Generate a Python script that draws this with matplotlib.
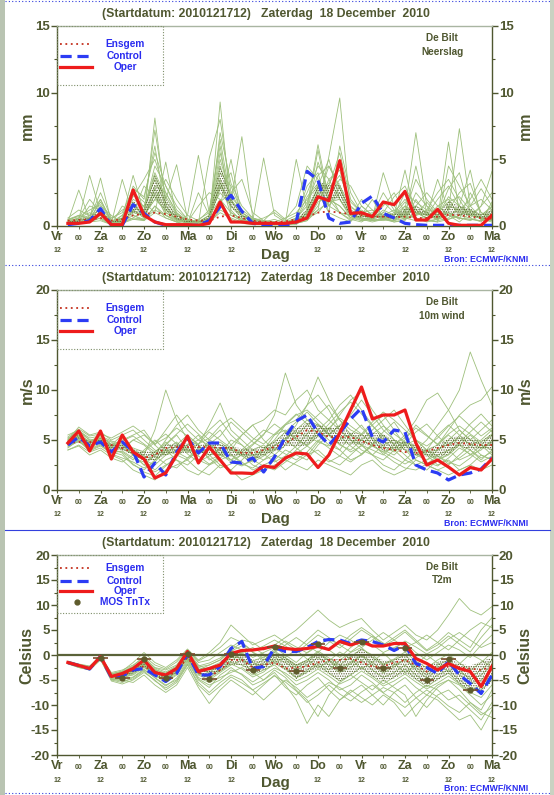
import numpy as np
import matplotlib
matplotlib.use('Agg')
import matplotlib.pyplot as plt
from matplotlib.lines import Line2D
from matplotlib.patches import Rectangle
from matplotlib.ticker import MultipleLocator
import matplotlib.transforms as mtransforms

plt.rcParams['font.family'] = ['Liberation Sans', 'DejaVu Sans']
plt.rcParams['font.weight'] = 'bold'
plt.rcParams['hatch.linewidth'] = 0.6

# ---------------- data ----------------
hours = list(range(6, 241, 6))
day_hours = list(range(0, 241, 24))
day_names = ['Vr', 'Za', 'Zo', 'Ma', 'Di', 'Wo', 'Do', 'Vr', 'Za', 'Zo', 'Ma']
mid_hours = list(range(12, 241, 24))
title_text = '(Startdatum: 2010121712)   Zaterdag  18 December  2010'

# Precipitation (mm)
prec_oper = [0.2, 0.2, 0.3, 0.95, 0.1, 0.1, 2.7, 0.8, 0.3, 0.1, 0.1, 0.1, 0.05, 0.2, 1.8, 0.3, 0.3, 0.2, 0.2, 0.2,
             0.2, 0.3, 0.6, 2.2, 1.9, 4.9, 0.95, 1.0, 0.7, 1.8, 1.6, 2.6, 0.45, 0.45, 1.25, 0.2, 0.05, 0.05, 0.05, 0.8]
prec_ctrl = [0.1, 0.2, 0.4, 1.3, 0.05, 0.05, 1.6, 0.95, 0.3, 0.05, 0.05, 0.05, 0.05, 0.4, 1.45, 2.3, 1.1, 0.2, 0.05, 0.05,
             0.05, 0.3, 4.1, 3.45, 0.6, 0.2, 0.3, 1.7, 2.25, 0.95, 0.6, 0.2, 0.1, 0.05, 0.05, 0.05, 0.05, 0.05, 0.05, 0.05]
prec_ensgem = [0.4, 0.45, 0.5, 0.6, 0.4, 0.5, 0.8, 0.9, 1.0, 0.9, 0.7, 0.5, 0.4, 0.4, 0.7, 0.8, 0.6, 0.4, 0.3, 0.3,
               0.35, 0.5, 0.7, 1.0, 1.1, 1.0, 0.9, 0.8, 0.7, 0.7, 0.65, 0.7, 0.6, 0.6, 0.7, 0.85, 0.8, 0.7, 0.6, 0.55]
prec_m01 = [0.3, 2.7, 0.5, 0.8, 0.1, 0.2, 1.2, 0.6, 8.1, 1.5, 0.4, 0.2, 0.3, 0.8, 2.0, 0.5, 0.2, 0.1, 0.3, 0.5, 0.2, 0.1, 0.8, 2.5, 1.0, 0.6, 0.3, 1.5, 0.8, 0.5, 0.4, 1.2, 7.0, 1.5, 0.6, 0.8, 0.3, 1.0, 0.5, 0.4]
prec_m02 = [0.2, 0.5, 3.8, 1.0, 0.2, 3.5, 0.8, 0.4, 1.0, 4.8, 0.6, 0.2, 0.1, 0.3, 9.3, 1.2, 0.3, 0.1, 0.2, 0.1, 0.3, 0.6, 1.5, 6.1, 2.0, 1.0, 0.4, 0.8, 2.0, 0.6, 0.3, 0.5, 1.0, 0.8, 3.5, 1.2, 7.3, 1.5, 0.6, 1.0]
prec_m03 = [0.5, 0.8, 0.6, 3.6, 0.3, 0.6, 3.8, 1.0, 7.2, 2.0, 4.6, 0.5, 0.2, 0.4, 1.5, 5.0, 0.8, 0.3, 0.2, 0.2, 0.2, 0.4, 0.6, 1.2, 5.2, 9.6, 1.0, 0.6, 0.5, 1.2, 0.8, 4.2, 0.6, 0.3, 0.5, 6.3, 1.0, 0.8, 1.5, 4.1]
prec_m04 = [0.1, 0.3, 0.4, 1.5, 0.8, 0.2, 2.5, 1.8, 1.0, 0.6, 0.3, 0.8, 5.3, 1.0, 6.5, 1.8, 6.7, 0.6, 0.3, 0.2, 0.1, 0.2, 1.0, 3.0, 1.5, 2.5, 0.8, 1.2, 0.6, 4.0, 1.5, 0.6, 0.8, 1.0, 0.4, 0.6, 1.5, 4.2, 0.5, 0.8]
prec_m05 = [0.4, 0.6, 1.0, 0.5, 0.1, 1.5, 1.0, 3.0, 2.2, 1.0, 0.5, 0.3, 0.2, 5.1, 8.0, 2.5, 1.0, 0.4, 5.1, 0.8, 0.3, 5.0, 1.2, 5.7, 1.5, 1.0, 0.5, 0.3, 0.8, 0.6, 1.0, 2.0, 1.0, 0.6, 1.5, 2.0, 0.8, 0.6, 0.3, 1.8]
prec_m06 = [0.2, 0.4, 0.6, 0.9, 0.2, 0.4, 1.8, 0.6, 3.0, 2.5, 1.0, 0.2, 0.1, 0.2, 3.5, 0.8, 0.4, 0.3, 0.1, 0.1, 0.2, 0.6, 3.0, 4.0, 1.0, 6.0, 2.5, 1.0, 1.2, 0.5, 0.3, 0.4, 2.0, 0.8, 0.6, 1.0, 0.5, 2.5, 1.0, 0.6]
prec_m07 = [0.6, 1.2, 0.8, 2.0, 0.3, 0.8, 0.5, 0.5, 1.5, 0.8, 0.4, 0.3, 0.5, 1.0, 2.5, 1.5, 0.6, 0.2, 0.4, 1.2, 0.5, 1.5, 4.5, 3.5, 2.0, 1.5, 0.6, 2.0, 1.2, 0.8, 0.5, 1.5, 0.8, 1.2, 2.5, 3.5, 2.0, 0.6, 1.5, 2.5]
prec_m08 = [0.2, 0.2, 0.3, 0.4, 0.1, 0.2, 0.6, 1.2, 4.5, 3.0, 1.5, 0.5, 0.2, 0.3, 1.0, 0.6, 0.3, 0.2, 0.1, 0.3, 0.2, 0.3, 0.5, 1.5, 3.5, 4.2, 1.0, 0.5, 0.3, 0.5, 0.6, 1.0, 3.5, 2.0, 1.0, 0.5, 0.8, 1.2, 0.5, 0.3]
prec_m09 = [0.3, 0.4, 1.5, 1.2, 0.2, 0.5, 3.0, 2.0, 6.0, 1.0, 0.6, 0.2, 2.5, 0.8, 5.5, 2.0, 0.8, 0.3, 0.2, 0.1, 0.1, 0.2, 0.6, 2.0, 4.5, 3.0, 1.5, 0.8, 0.6, 1.5, 2.5, 1.0, 0.6, 0.4, 0.3, 4.5, 3.0, 1.5, 2.0, 1.2]
prec_m10 = [0.1, 0.2, 0.3, 0.6, 0.2, 0.3, 1.0, 0.8, 2.0, 1.2, 0.8, 0.4, 0.3, 0.6, 4.0, 3.0, 1.0, 0.5, 0.3, 0.2, 0.2, 0.4, 1.0, 4.8, 2.5, 1.0, 0.8, 0.4, 0.5, 0.8, 1.2, 0.6, 1.5, 2.5, 1.5, 0.8, 0.6, 0.4, 0.8, 1.5]
prec_m11 = [0.4, 0.8, 0.5, 1.8, 0.4, 0.6, 2.0, 1.5, 3.5, 1.5, 0.6, 0.3, 0.4, 1.2, 6.0, 1.0, 0.5, 0.2, 0.2, 0.3, 0.6, 1.0, 2.0, 3.0, 5.0, 2.0, 0.6, 0.8, 1.0, 0.7, 0.5, 0.8, 4.5, 1.0, 0.5, 1.5, 1.2, 0.8, 0.6, 0.5]
prec_m12 = [0.2, 0.3, 0.4, 0.8, 0.1, 0.3, 0.8, 0.5, 2.5, 0.8, 0.3, 0.1, 0.2, 0.5, 2.8, 4.0, 0.6, 0.2, 0.1, 0.1, 0.1, 0.3, 0.8, 2.2, 1.5, 3.0, 0.8, 0.5, 0.4, 0.6, 0.8, 1.5, 1.0, 0.6, 0.8, 2.8, 4.0, 1.0, 0.5, 0.6]
prec_m13 = [0.3, 0.6, 2.0, 1.0, 0.2, 0.8, 2.2, 3.5, 5.0, 2.5, 1.0, 0.4, 0.3, 0.6, 3.0, 1.5, 0.8, 0.5, 0.3, 0.2, 0.3, 0.5, 1.8, 3.8, 4.5, 2.8, 1.2, 0.8, 0.5, 0.4, 0.6, 0.9, 1.5, 1.0, 0.6, 1.2, 2.5, 3.2, 1.0, 0.7]
prec_m14 = [0.2, 0.3, 0.5, 1.0, 0.5, 1.2, 1.5, 0.8, 2.0, 3.5, 2.0, 0.8, 0.4, 0.3, 1.8, 2.5, 3.5, 1.0, 0.4, 0.3, 0.2, 0.3, 0.6, 1.0, 2.0, 1.5, 0.6, 0.4, 0.6, 1.0, 2.2, 3.0, 1.2, 0.5, 0.3, 0.5, 0.8, 1.5, 2.8, 1.5]
prec_m15 = [0.4, 0.5, 0.8, 1.2, 0.3, 0.4, 1.5, 1.0, 3.8, 1.8, 0.8, 0.3, 0.2, 0.4, 7.0, 3.2, 1.5, 0.6, 0.3, 0.2, 0.2, 0.4, 1.2, 2.8, 3.0, 5.5, 2.0, 1.0, 0.8, 0.6, 0.4, 0.6, 2.5, 1.5, 0.8, 1.0, 0.6, 0.5, 0.4, 0.6]
prec_m16 = [0.1, 0.2, 0.4, 2.0, 0.4, 0.3, 0.6, 0.5, 1.2, 0.8, 0.5, 0.3, 1.5, 2.5, 2.0, 1.0, 0.5, 0.3, 0.2, 0.1, 0.1, 0.2, 0.4, 1.8, 2.2, 3.5, 3.0, 1.5, 0.8, 2.5, 1.2, 0.6, 0.4, 0.8, 2.0, 3.0, 1.5, 0.8, 0.6, 0.4]
prec_m17 = [0.3, 0.4, 0.6, 2.5, 0.6, 1.0, 2.8, 2.2, 5.5, 3.0, 1.2, 0.5, 0.3, 0.5, 4.5, 2.0, 0.8, 0.4, 0.6, 1.0, 0.4, 0.8, 2.5, 4.5, 3.5, 2.0, 0.8, 0.6, 0.4, 0.5, 0.8, 1.8, 1.2, 0.8, 0.5, 0.8, 1.2, 2.0, 3.5, 2.0]
prec_m18 = [0.2, 0.3, 0.6, 0.8, 0.2, 0.3, 1.2, 0.7, 2.8, 1.2, 0.5, 0.2, 0.3, 0.8, 3.2, 1.8, 1.0, 0.5, 0.3, 0.2, 0.3, 0.5, 2.2, 3.2, 2.8, 3.8, 1.8, 1.0, 0.7, 1.8, 1.0, 0.5, 0.8, 1.8, 0.8, 2.2, 1.5, 1.0, 0.6, 1.2]
prec_m19 = [0.5, 0.7, 1.2, 1.6, 0.3, 0.5, 2.4, 1.4, 4.0, 2.2, 0.9, 0.4, 0.3, 0.6, 5.0, 2.2, 1.2, 0.6, 0.4, 0.3, 0.2, 0.4, 0.9, 2.6, 3.2, 4.5, 1.4, 0.9, 0.6, 1.0, 0.8, 2.5, 1.8, 1.2, 1.0, 1.8, 2.2, 1.2, 0.8, 1.4]
prec_m20 = [0.2, 0.2, 0.4, 0.6, 0.1, 0.2, 0.5, 0.4, 1.5, 0.6, 0.3, 0.1, 0.1, 0.2, 1.2, 0.8, 0.4, 0.2, 0.1, 0.1, 0.1, 0.2, 0.4, 1.2, 1.8, 2.0, 0.8, 0.6, 0.4, 0.5, 0.4, 0.8, 0.6, 0.4, 0.5, 0.8, 0.6, 0.5, 0.4, 0.5]
prec_members = [prec_m01, prec_m02, prec_m03, prec_m04, prec_m05, prec_m06, prec_m07, prec_m08, prec_m09, prec_m10,
                prec_m11, prec_m12, prec_m13, prec_m14, prec_m15, prec_m16, prec_m17, prec_m18, prec_m19, prec_m20]

# 10 m wind (m/s)
wind_oper = [4.7, 5.9, 3.9, 5.9, 3.1, 5.5, 3.8, 3.1, 1.2, 1.7, 3.5, 5.4, 2.7, 4.3, 3.0, 1.7, 1.7, 1.65, 2.4, 2.25,
             3.2, 3.7, 3.6, 2.25, 3.5, 5.7, 8.0, 10.3, 7.1, 7.5, 7.5, 8.0, 4.7, 2.5, 3.0, 2.3, 1.5, 2.25, 2.0, 3.1]
wind_ctrl = [4.5, 5.3, 4.4, 4.8, 3.8, 4.8, 3.9, 1.3, 2.7, 1.5, 3.8, 5.2, 3.7, 4.7, 4.7, 2.8, 2.7, 3.2, 1.8, 3.3,
             5.3, 6.9, 7.5, 5.7, 4.5, 5.7, 7.1, 8.2, 5.3, 4.8, 6.0, 5.8, 2.5, 2.0, 1.7, 1.0, 1.5, 1.7, 2.1, 3.2]
wind_ensgem = [4.7, 4.8, 4.8, 4.7, 4.5, 4.2, 3.7, 3.2, 3.5, 4.2, 4.3, 4.3, 4.3, 4.3, 4.2, 4.2, 3.7, 3.7, 4.0, 4.3,
               4.7, 5.3, 6.0, 5.8, 5.3, 5.3, 5.3, 4.9, 4.5, 4.2, 4.0, 3.8, 3.7, 3.9, 4.2, 4.5, 4.7, 4.6, 4.5, 4.5]
wind_m01 = [4.8, 5.5, 4.5, 5.0, 4.2, 4.5, 3.5, 3.0, 2.5, 3.5, 4.0, 5.0, 4.5, 3.5, 4.0, 3.0, 3.5, 4.5, 5.5, 7.5, 11.7, 8.5, 7.0, 6.0, 5.0, 4.0, 5.5, 6.5, 5.0, 4.0, 3.5, 4.5, 5.0, 4.0, 3.0, 3.5, 4.5, 5.5, 4.5, 4.0]
wind_m02 = [5.0, 6.3, 5.5, 5.8, 5.0, 5.5, 4.0, 3.5, 6.0, 10.0, 7.0, 5.0, 4.5, 6.5, 8.7, 6.0, 5.0, 4.0, 3.5, 4.5, 5.0, 6.5, 8.5, 11.3, 9.0, 7.0, 5.5, 4.5, 3.5, 3.0, 4.0, 5.0, 6.5, 5.5, 4.5, 6.0, 7.5, 8.5, 9.0, 10.3]
wind_m03 = [4.0, 4.5, 3.8, 4.2, 3.5, 3.0, 2.0, 1.5, 1.0, 2.0, 2.5, 3.0, 2.0, 1.5, 2.5, 2.0, 1.0, 1.5, 2.0, 2.5, 3.0, 2.5, 2.0, 3.0, 2.5, 2.0, 1.5, 2.5, 3.0, 2.0, 1.5, 2.0, 3.0, 2.5, 2.0, 1.5, 2.0, 2.5, 2.0, 2.5]
wind_m04 = [4.5, 5.0, 4.8, 5.5, 4.5, 5.0, 5.5, 6.0, 4.5, 3.5, 4.0, 4.5, 5.5, 4.0, 3.5, 3.0, 4.0, 5.0, 6.0, 5.5, 6.5, 7.5, 8.0, 7.0, 6.0, 7.5, 9.0, 9.8, 8.0, 6.5, 5.0, 4.5, 4.0, 5.0, 6.5, 8.0, 10.0, 13.8, 11.0, 8.5]
wind_m05 = [5.5, 6.0, 5.0, 5.2, 4.8, 4.0, 5.0, 4.5, 3.5, 5.0, 6.5, 7.5, 6.0, 5.0, 4.5, 4.0, 5.5, 6.5, 7.0, 8.0, 7.5, 9.0, 10.0, 8.0, 7.0, 6.0, 5.0, 4.0, 3.5, 4.5, 5.0, 4.0, 3.5, 3.0, 4.0, 5.0, 6.0, 5.0, 4.5, 5.5]
wind_m06 = [4.2, 5.0, 4.0, 4.5, 3.8, 3.5, 2.5, 2.0, 3.0, 4.5, 5.5, 4.0, 3.0, 2.5, 3.5, 5.0, 4.5, 3.5, 3.0, 3.5, 4.5, 5.5, 6.5, 7.5, 8.5, 7.0, 6.0, 5.5, 6.5, 7.5, 6.0, 4.5, 3.5, 4.0, 5.5, 6.5, 5.5, 4.5, 5.0, 6.0]
wind_m07 = [4.8, 5.2, 4.6, 5.5, 4.5, 4.8, 4.0, 3.0, 2.0, 3.0, 3.5, 4.5, 5.0, 4.5, 4.0, 3.0, 2.5, 3.0, 4.0, 5.5, 6.0, 5.0, 4.5, 6.0, 7.0, 8.5, 9.5, 8.0, 6.5, 5.0, 4.0, 3.0, 2.5, 3.0, 3.5, 4.0, 3.0, 3.5, 4.5, 3.5]
wind_m08 = [4.5, 4.8, 4.2, 4.8, 4.0, 3.8, 3.0, 4.0, 5.0, 4.0, 3.0, 2.5, 3.5, 5.0, 6.0, 4.5, 3.5, 2.5, 2.0, 3.0, 4.0, 3.5, 3.0, 4.5, 5.5, 6.5, 7.5, 9.0, 7.5, 6.0, 5.0, 4.0, 3.0, 2.5, 2.0, 2.5, 3.5, 4.5, 3.5, 3.0]
wind_m09 = [5.2, 5.8, 5.0, 4.8, 4.5, 5.5, 6.0, 5.0, 4.0, 3.5, 4.5, 5.5, 4.5, 3.0, 3.5, 4.5, 5.5, 6.5, 5.0, 4.0, 5.0, 6.0, 7.0, 6.5, 5.5, 4.5, 4.0, 5.0, 6.0, 7.0, 8.0, 6.5, 5.0, 4.0, 4.5, 5.5, 4.5, 3.5, 4.0, 5.0]
wind_m10 = [4.0, 4.4, 3.5, 4.0, 3.2, 2.8, 3.5, 2.5, 1.8, 2.5, 3.0, 2.0, 1.5, 2.5, 3.0, 3.5, 2.8, 2.0, 2.5, 3.0, 2.0, 2.8, 3.5, 4.0, 3.0, 2.5, 3.5, 4.5, 3.5, 2.5, 2.0, 3.0, 4.0, 3.5, 2.5, 3.0, 2.0, 2.5, 3.5, 3.0]
wind_m11 = [4.6, 5.4, 4.4, 5.2, 4.0, 4.2, 5.0, 5.5, 4.5, 6.0, 7.5, 6.0, 5.0, 6.0, 7.0, 5.5, 4.5, 3.5, 4.0, 5.0, 6.5, 7.0, 8.5, 9.5, 8.0, 6.0, 5.0, 4.5, 4.0, 3.5, 4.5, 5.5, 7.0, 9.0, 9.7, 8.0, 6.0, 5.0, 6.0, 7.0]
wind_m12 = [5.0, 5.6, 4.8, 5.0, 4.5, 4.5, 3.5, 2.5, 3.5, 4.0, 3.5, 3.0, 4.0, 3.5, 2.5, 2.0, 3.0, 4.0, 4.5, 3.5, 3.0, 4.0, 5.0, 5.5, 4.5, 4.0, 3.0, 3.5, 4.5, 5.5, 4.5, 3.5, 2.5, 2.0, 3.0, 4.0, 4.5, 4.0, 3.0, 4.0]
wind_m13 = [4.4, 5.1, 4.1, 4.6, 3.6, 3.2, 2.8, 2.2, 2.8, 4.0, 4.8, 3.6, 2.8, 3.4, 4.2, 3.6, 2.6, 2.2, 3.0, 4.0, 5.0, 4.2, 3.4, 4.8, 6.2, 5.4, 4.4, 3.6, 4.6, 5.8, 6.8, 5.2, 3.8, 2.8, 2.4, 3.2, 4.2, 3.6, 2.8, 3.4]
wind_m14 = [5.1, 5.9, 5.2, 5.4, 4.9, 4.6, 4.2, 3.8, 4.8, 5.6, 4.6, 3.8, 4.6, 5.8, 5.0, 4.2, 3.8, 4.6, 5.6, 6.6, 5.8, 6.8, 7.8, 6.6, 5.6, 6.4, 7.4, 6.2, 5.2, 4.4, 3.8, 4.6, 5.8, 6.6, 5.4, 4.4, 5.4, 6.6, 7.6, 6.4]
wind_m15 = [4.3, 4.9, 3.9, 4.4, 3.7, 3.9, 3.2, 2.8, 3.4, 2.6, 2.2, 3.2, 4.2, 3.2, 2.2, 2.6, 3.6, 3.0, 2.4, 2.0, 2.8, 3.6, 4.4, 3.6, 2.8, 3.4, 4.6, 5.6, 4.6, 3.6, 2.8, 2.2, 2.0, 2.6, 3.4, 2.8, 2.4, 3.2, 4.2, 4.8]
wind_m16 = [4.9, 5.7, 4.7, 5.1, 4.3, 4.9, 5.4, 4.6, 3.8, 4.6, 5.6, 6.6, 5.6, 4.6, 5.4, 6.8, 5.8, 4.8, 4.2, 4.8, 5.8, 5.2, 4.4, 5.4, 6.6, 7.8, 8.8, 7.6, 6.4, 5.4, 4.6, 5.2, 6.2, 5.4, 4.6, 5.6, 6.4, 5.6, 4.8, 5.6]
wind_m17 = [4.7, 5.3, 4.3, 4.9, 4.1, 3.7, 2.6, 1.8, 1.4, 2.4, 3.4, 4.2, 3.4, 2.6, 3.2, 4.0, 3.4, 2.8, 3.4, 4.2, 3.6, 3.0, 3.8, 5.0, 4.2, 3.4, 2.8, 3.6, 4.4, 3.8, 3.2, 2.6, 3.2, 4.0, 3.4, 2.6, 3.2, 4.0, 3.2, 3.8]
wind_m18 = [5.3, 6.1, 5.4, 5.6, 5.2, 5.8, 6.4, 5.6, 4.6, 5.2, 6.2, 5.4, 4.6, 5.2, 6.4, 7.2, 6.2, 5.2, 4.6, 5.6, 6.6, 7.6, 6.6, 5.6, 6.2, 7.2, 6.4, 5.6, 6.8, 7.8, 7.0, 6.0, 5.0, 4.4, 5.2, 6.4, 7.4, 6.4, 5.4, 6.2]
wind_m19 = [4.6, 5.2, 4.5, 4.7, 4.3, 4.4, 3.8, 3.4, 3.0, 3.8, 4.4, 4.0, 3.6, 4.2, 4.8, 4.0, 3.6, 3.4, 3.8, 4.4, 5.2, 5.8, 5.4, 4.8, 4.4, 5.0, 5.6, 5.0, 4.4, 3.8, 4.2, 4.8, 4.4, 3.8, 4.0, 4.6, 5.2, 4.6, 4.2, 4.6]
wind_m20 = [4.9, 5.4, 4.9, 5.3, 4.6, 4.1, 3.6, 3.2, 3.8, 4.8, 3.8, 3.2, 3.8, 4.6, 3.6, 2.8, 2.4, 3.0, 3.6, 2.8, 3.4, 4.4, 5.6, 6.6, 5.6, 4.6, 3.8, 4.4, 5.6, 6.4, 5.6, 4.8, 4.2, 3.6, 3.0, 3.6, 4.8, 5.8, 6.8, 5.8]
wind_members = [wind_m01, wind_m02, wind_m03, wind_m04, wind_m05, wind_m06, wind_m07, wind_m08, wind_m09, wind_m10,
                wind_m11, wind_m12, wind_m13, wind_m14, wind_m15, wind_m16, wind_m17, wind_m18, wind_m19, wind_m20]

# 2 m temperature (Celsius)
temp_oper = [-1.5, -2.1, -2.7, -0.3, -4.3, -3.7, -2.7, -1.0, -3.5, -4.0, -2.7, 0.7, -3.3, -2.7, -2.0, 0.3, 0.9, 1.0, 1.3, 1.8,
             1.3, 1.1, 1.3, 1.7, 1.1, 2.7, 2.0, 2.7, 1.8, 1.8, 2.3, 2.3, -0.7, -1.7, -3.0, -1.7, -2.7, -3.3, -6.3, -2.3]
temp_ctrl = [-1.5, -2.1, -2.8, -0.3, -4.5, -4.2, -3.0, -2.7, -4.0, -5.3, -3.7, 0.3, -4.0, -4.0, -2.3, 1.3, 2.7, -2.7, -2.3, 1.5,
             0.7, 0.7, 1.5, 2.7, 3.1, 3.0, 2.3, 3.0, 2.7, 2.0, 0.9, 2.0, -1.7, -2.5, -3.7, -1.3, -4.0, -5.7, -7.7, -4.0]
temp_ensgem = [-1.5, -2.2, -2.7, -0.5, -4.3, -4.0, -3.2, -2.2, -3.5, -4.3, -3.3, -0.5, -3.5, -4.3, -3.0, -1.0, -1.0, -2.5, -2.0, -1.5,
               -2.7, -2.5, -2.3, -1.5, -1.0, -1.0, -0.7, -1.5, -2.3, -2.3, -1.5, -1.0, -2.0, -3.3, -3.0, -2.3, -2.5, -2.7, -3.0, -2.3]
temp_m01 = [-1.5, -2.0, -2.5, -0.5, -4.5, -4.0, -3.0, -1.5, -3.0, -4.5, -3.0, 0.5, -3.0, -2.0, -1.0, 1.5, 3.0, 2.5, 1.0, 2.0, 3.5, 5.0, 7.0, 9.0, 7.0, 5.5, 6.5, 7.3, 5.0, 3.0, 4.5, 6.0, 4.0, 3.0, 5.0, 8.0, 11.3, 9.0, 8.0, 9.7]
temp_m02 = [-1.8, -2.5, -3.0, -1.0, -5.0, -5.5, -4.5, -3.0, -4.5, -6.0, -5.0, -1.5, -5.0, -6.5, -4.0, -2.5, -4.0, -6.0, -5.0, -3.5, -6.0, -9.0, -13.7, -10.0, -12.3, -9.0, -7.0, -8.5, -10.0, -8.0, -9.5, -12.3, -10.0, -8.0, -9.0, -11.0, -13.0, -12.0, -15.0, -11.0]
temp_m03 = [-1.2, -1.8, -2.2, -0.3, -3.5, -3.0, -2.0, -0.5, -2.5, -3.0, -2.0, 1.0, -1.5, -1.0, 0.5, 2.0, 1.0, -0.5, 0.5, 1.5, 0.0, -1.5, 0.5, 2.0, 1.0, -0.5, 1.5, 3.0, 2.0, 0.5, 1.5, 2.5, 0.5, -1.0, 0.5, 2.0, 1.0, -0.5, 2.0, 4.0]
temp_m04 = [-1.6, -2.3, -2.8, -0.8, -5.0, -4.5, -4.0, -2.5, -4.0, -5.5, -4.0, -1.0, -4.5, -5.5, -4.5, -3.5, -2.5, -4.0, -3.0, -2.0, -4.0, -6.0, -5.0, -3.5, -5.0, -7.0, -6.0, -4.0, -5.5, -7.5, -6.0, -4.5, -6.5, -8.0, -6.0, -5.0, -7.0, -9.5, -11.0, -7.0]
temp_m05 = [-1.4, -2.1, -2.6, -0.4, -4.0, -3.5, -2.5, -1.0, -3.5, -4.0, -2.5, 0.8, -2.0, -3.0, -2.5, -0.5, 0.5, -1.5, -2.5, -1.0, -2.5, -4.5, -3.0, -1.5, -3.0, -1.0, 0.5, 1.5, -0.5, -2.0, -1.0, 0.0, -2.0, -3.5, -2.0, -1.0, -3.0, -5.0, -4.0, -2.0]
temp_m06 = [-1.5, -2.2, -2.7, -0.6, -4.8, -5.0, -5.5, -4.0, -6.0, -7.5, -6.0, -2.5, -6.5, -9.7, -7.0, -5.0, -6.5, -8.0, -6.0, -4.0, -6.5, -8.0, -6.0, -4.5, -7.0, -9.0, -7.5, -6.0, -8.0, -10.0, -7.5, -6.0, -8.5, -10.5, -8.0, -7.0, -9.0, -11.0, -13.0, -9.5]
temp_m07 = [-1.3, -1.9, -2.4, -0.2, -3.8, -3.2, -1.5, 0.5, -1.5, -2.5, -1.0, 1.2, -1.0, 0.5, 2.5, 6.0, 4.0, 2.0, 3.0, 4.0, 2.5, 1.0, 3.0, 5.0, 3.5, 2.0, 4.0, 5.5, 4.0, 2.0, 3.5, 5.0, 3.0, 1.0, 2.5, 4.5, 3.0, 1.5, 5.0, 7.5]
temp_m08 = [-1.7, -2.4, -2.9, -0.7, -4.6, -4.2, -3.5, -2.0, -3.8, -5.0, -3.5, -0.5, -3.5, -4.0, -3.0, -1.5, -2.0, -3.0, -2.0, -0.5, -1.5, -3.0, -2.0, -0.5, -2.0, -3.5, -2.5, -1.0, -3.0, -4.5, -3.5, -2.0, -4.0, -5.5, -4.0, -3.0, -5.0, -6.5, -7.0, -5.0]
temp_m09 = [-1.5, -2.0, -2.6, -0.5, -4.2, -3.8, -3.0, -1.8, -3.2, -4.2, -3.0, 0.0, -3.0, -2.5, -1.5, 0.5, -1.0, -3.5, -5.0, -3.0, -4.5, -7.0, -9.0, -12.3, -8.0, -5.5, -4.0, -5.5, -7.0, -5.0, -6.5, -8.0, -12.3, -9.0, -6.5, -5.0, -6.0, -8.0, -10.0, -8.0]
temp_m10 = [-1.6, -2.2, -2.8, -0.6, -4.4, -4.6, -3.8, -2.2, -4.2, -5.0, -3.2, -0.8, -4.0, -5.0, -3.5, -2.0, -1.0, -2.0, -1.0, 0.5, -0.5, -2.0, -1.0, 0.5, -1.0, -2.5, -1.5, 0.0, -1.5, -3.0, -2.0, -1.0, -2.5, -4.0, -2.5, -1.5, -3.5, -4.5, -3.0, -1.0]
temp_m11 = [-1.4, -2.0, -2.5, -0.4, -4.0, -4.0, -3.2, -1.2, -2.8, -3.8, -2.8, 0.3, -2.5, -3.0, -2.0, 1.0, 2.5, 0.5, -1.0, 0.5, 2.0, 3.5, 2.0, 0.5, 2.5, 4.0, 3.0, 1.5, 3.0, 4.5, 3.0, 1.5, 2.5, 4.0, 2.5, 1.0, 3.0, 5.0, 6.5, 5.5]
temp_m12 = [-1.7, -2.5, -3.0, -0.8, -5.2, -5.8, -5.0, -3.5, -5.0, -7.0, -5.5, -2.0, -5.5, -7.5, -5.5, -4.0, -5.0, -7.0, -9.0, -7.0, -5.0, -6.5, -8.5, -7.0, -5.5, -6.5, -8.0, -9.5, -8.0, -6.5, -7.5, -9.5, -7.5, -6.0, -7.0, -9.0, -8.0, -10.0, -12.0, -10.5]
temp_m13 = [-1.4, -2.0, -2.5, -0.3, -3.8, -3.4, -2.4, -0.8, -2.6, -3.4, -2.2, 0.6, -2.2, -1.6, -0.6, 1.0, 0.2, -1.2, -0.4, 0.8, -0.6, -2.2, -1.0, 0.8, -0.6, -2.0, -0.4, 1.2, 0.0, -1.8, -0.8, 0.6, -1.2, -2.6, -1.0, 0.2, -1.6, -3.0, -1.5, 0.5]
temp_m14 = [-1.6, -2.3, -2.9, -0.7, -4.7, -4.8, -4.4, -2.8, -4.6, -6.2, -4.6, -1.2, -4.8, -6.0, -5.0, -3.0, -3.8, -5.4, -4.0, -2.6, -3.6, -5.2, -4.2, -2.8, -4.2, -5.8, -4.8, -3.2, -4.6, -6.2, -5.2, -3.8, -5.4, -6.8, -5.6, -4.2, -5.8, -7.5, -8.5, -6.0]
temp_m15 = [-1.5, -2.1, -2.6, -0.5, -4.1, -3.6, -2.8, -1.4, -3.0, -3.6, -2.4, 0.4, -2.4, -2.0, -1.0, 0.8, 1.8, 0.6, -0.6, 1.2, 2.8, 1.6, 0.4, 1.8, 3.2, 2.0, 0.6, 2.2, 3.8, 2.4, 1.2, 2.8, 1.6, 0.2, 1.4, 3.2, 4.5, 3.0, 1.5, 2.5]
temp_m16 = [-1.7, -2.4, -2.9, -0.6, -4.9, -5.2, -4.8, -3.2, -5.2, -6.6, -5.2, -1.8, -6.0, -8.0, -6.2, -4.4, -5.6, -7.0, -5.6, -4.2, -5.4, -7.2, -9.5, -8.0, -6.0, -7.8, -9.2, -7.4, -6.0, -7.6, -9.0, -10.5, -8.6, -7.0, -8.4, -10.2, -11.5, -9.5, -11.5, -12.5]
temp_m17 = [-1.3, -1.9, -2.3, -0.2, -3.7, -3.3, -2.2, -0.2, -2.0, -2.8, -1.4, 1.0, -1.2, 0.0, 1.5, 3.5, 2.5, 0.8, 1.8, 3.0, 1.8, 0.4, 2.2, 4.0, 2.8, 1.4, 3.2, 5.0, 3.6, 1.8, 3.0, 4.6, 2.6, 0.8, 2.0, 3.8, 2.2, 0.6, 3.5, 6.0]
temp_m18 = [-1.6, -2.3, -2.7, -0.6, -4.5, -4.4, -3.6, -2.4, -4.0, -5.2, -3.8, -0.6, -3.8, -4.6, -3.2, -1.8, -2.8, -4.4, -3.4, -1.6, -2.8, -4.6, -3.4, -2.0, -3.6, -5.2, -4.0, -2.4, -4.2, -5.8, -4.4, -2.8, -4.8, -6.4, -4.8, -3.6, -5.6, -7.2, -6.0, -4.0]
temp_m19 = [-1.5, -2.1, -2.7, -0.5, -4.3, -4.1, -3.3, -1.9, -3.6, -4.6, -3.4, -0.2, -3.2, -3.4, -2.2, -0.4, -0.6, -2.4, -1.6, 0.0, -1.0, -2.6, -1.4, 0.2, -1.2, -2.8, -1.8, -0.2, -2.0, -3.6, -2.4, -0.8, -3.0, -4.6, -3.0, -1.8, -4.0, -5.6, -5.0, -3.0]
temp_m20 = [-1.4, -2.0, -2.6, -0.4, -4.2, -3.9, -3.1, -1.6, -3.4, -4.4, -3.1, 0.2, -2.8, -3.6, -3.0, -1.2, 0.4, 1.5, 0.2, -1.5, -0.4, 1.0, -0.8, -2.6, -1.2, 0.6, -0.8, -2.8, -1.4, 0.4, -1.6, -3.6, -2.0, 0.0, -1.6, -3.4, -1.8, 0.2, -1.0, -2.5]
temp_members = [temp_m01, temp_m02, temp_m03, temp_m04, temp_m05, temp_m06, temp_m07, temp_m08, temp_m09, temp_m10,
                temp_m11, temp_m12, temp_m13, temp_m14, temp_m15, temp_m16, temp_m17, temp_m18, temp_m19, temp_m20]

mos_hours = [24, 36, 48, 60, 72, 84, 96, 108, 120, 132, 144, 156, 168, 180, 192, 204, 216, 228]
mos_vals = [-0.5, -4.5, -0.7, -4.5, 0.3, -4.8, 0.2, -3.0, 1.6, -3.2, 2.2, -2.5, 2.6, -2.5, 1.5, -5.0, -0.8, -7.0]

# ---------------- style ----------------
W, H = 554, 795
OLIVE = '#4f5730'
GREEN = '#9ec07c'
RED = '#ee1c1c'
BLUE = '#2c3cf4'
ENSRED = '#c4301e'
LBLUE = '#2a2cf0'
GRAYLINE = '#a9b5a2'


def fx(x):
    return x / W


def fy(y):
    return 1 - y / H


fig = plt.figure(figsize=(W / 100, H / 100), dpi=100)
fig.patch.set_facecolor('white')

panels = [
    dict(top=26, ylim=(0, 15), yticks=[0, 5, 10, 15], ylabel='mm', station2='Neerslag',
         members=prec_members, ens=prec_ensgem, ctrl=prec_ctrl, oper=prec_oper, mos=False),
    dict(top=290, ylim=(0, 20), yticks=[0, 5, 10, 15, 20], ylabel='m/s', station2='10m wind',
         members=wind_members, ens=wind_ensgem, ctrl=wind_ctrl, oper=wind_oper, mos=False),
    dict(top=555, ylim=(-20, 20), yticks=[-20, -15, -10, -5, 0, 5, 10, 15, 20], ylabel='Celsius', station2='T2m',
         members=temp_members, ens=temp_ensgem, ctrl=temp_ctrl, oper=temp_oper, mos=True),
]

for k, p in enumerate(panels):
    top = p['top']
    ax = fig.add_axes([fx(57), fy(top + 200), fx(435), 200 / H])
    ax.set_xlim(0, 240)
    ax.set_ylim(*p['ylim'])
    ax.set_facecolor('white')

    mem = np.array(p['members'])
    for m in mem:
        ax.plot(hours, m, color=GREEN, lw=0.6, zorder=2)
    lo = np.percentile(mem, 35, axis=0)
    hi = np.percentile(mem, 65, axis=0)
    ax.fill_between(hours, lo, hi, facecolor='none', edgecolor='#56602e',
                    hatch='.......', linewidth=0, zorder=3)
    if p['mos']:
        ax.axhline(0, color='#5a6238', lw=1.6, zorder=3)
    ax.plot(hours, p['ens'], color=ENSRED, lw=1.3, ls=(0, (1, 2)), zorder=4)
    ax.plot(hours, p['ctrl'], color=BLUE, lw=2.3, ls=(0, (3.5, 1.8)), zorder=5)
    ax.plot(hours, p['oper'], color=RED, lw=2.3, zorder=6)
    if p['mos']:
        ax.errorbar(mos_hours, mos_vals, xerr=4, fmt='o', color='#5e5b2c', ecolor='#7a4a2a',
                    elinewidth=1.2, ms=3.5, capsize=0, zorder=7)

    for side in ('left', 'right', 'bottom'):
        ax.spines[side].set_color(OLIVE)
        ax.spines[side].set_linewidth(1.0)
    ax.spines['top'].set_color(GRAYLINE)
    ax.spines['top'].set_linestyle((0, (2, 1)))
    ax.spines['top'].set_linewidth(1.0)

    ax.set_yticks(p['yticks'])
    ax.set_yticklabels([str(v) for v in p['yticks']])
    ax.yaxis.set_minor_locator(MultipleLocator(2.5))
    ax.tick_params(axis='y', which='both', left=True, right=True, labelleft=True, labelright=True,
                   direction='out', color=OLIVE, labelcolor=OLIVE, labelsize=9.5, pad=1)
    ax.tick_params(axis='y', which='major', length=4, width=1)
    ax.tick_params(axis='y', which='minor', length=2, width=0.8)

    ax.set_xticks(day_hours)
    ax.set_xticklabels(day_names)
    ax.set_xticks(mid_hours, minor=True)
    ax.set_xticklabels(['00'] * len(mid_hours), minor=True)
    ax.tick_params(axis='x', which='major', length=2, color=OLIVE, labelcolor=OLIVE,
                   labelsize=9, pad=1.5, direction='out')
    ax.tick_params(axis='x', which='minor', length=2, color=OLIVE, labelcolor=OLIVE,
                   labelsize=5, pad=4.5, direction='out')
    for lab in ax.get_xticklabels() + ax.get_yticklabels():
        lab.set_fontweight('bold')

    trans = mtransforms.blended_transform_factory(ax.transData, ax.transAxes)
    for h in day_hours:
        if h == 120:
            continue  # "Dag" takes this place
        ax.text(h, -25 / 200, '12', transform=trans, ha='center', va='center',
                fontsize=5, color=OLIVE, fontweight='bold')

    ybot = top + 200
    fig.text(fx(275), fy(ybot + 28.5), 'Dag', ha='center', va='center', fontsize=11,
             color=OLIVE, fontweight='bold')
    fig.text(fx(486), fy(ybot + 33.5), 'Bron: ECMWF/KNMI', ha='center', va='center',
             fontsize=6.3, color=LBLUE, fontweight='bold')

    # title
    fig.text(fx(266), fy(top - 12), title_text, ha='center', va='center', fontsize=8.8,
             color=OLIVE, fontweight='bold')
    # y labels
    ylab_size = 11.5
    fig.text(fx(27), fy(top + 100), p['ylabel'], rotation=90, ha='center', va='center',
             fontsize=ylab_size, color=OLIVE, fontweight='bold')
    fig.text(fx(525), fy(top + 100), p['ylabel'], rotation=90, ha='center', va='center',
             fontsize=ylab_size, color=OLIVE, fontweight='bold')
    # station text
    fig.text(fx(442), fy(top + 12), 'De Bilt', ha='center', va='center', fontsize=7.2,
             color=OLIVE, fontweight='bold')
    fig.text(fx(442), fy(top + 26 if not p['mos'] else top + 25), p['station2'], ha='center',
             va='center', fontsize=7.2, color=OLIVE, fontweight='bold')

    # legend box
    if p['mos']:
        box_h = 58
        rows = [top + 13, top + 26, top + 36, top + 47]
    else:
        box_h = 59
        rows = [top + 18, top + 30, top + 41]
    fig.add_artist(Rectangle((fx(57), fy(top + box_h)), fx(106), box_h / H, transform=fig.transFigure,
                             facecolor='none', edgecolor='#7f8f6a', lw=0.8, ls=(0, (1, 1.5)), zorder=8))
    labels = ['Ensgem', 'Control', 'Oper']
    styles = [dict(color=ENSRED, lw=1.3, ls=(0, (1, 2))),
              dict(color=BLUE, lw=2.3, ls=(0, (3.5, 1.8))),
              dict(color=RED, lw=2.3, ls='-')]
    for i, (lab, st) in enumerate(zip(labels, styles)):
        y = rows[i]
        fig.add_artist(Line2D([fx(60), fx(92)], [fy(y), fy(y)], transform=fig.transFigure, **st))
        fig.text(fx(125), fy(y), lab, ha='center', va='center', fontsize=7.3, color=LBLUE,
                 fontweight='bold')
    if p['mos']:
        y = rows[3]
        fig.add_artist(Line2D([fx(77)], [fy(y)], transform=fig.transFigure, marker='o', ms=3.5,
                              color='#5e5b2c', ls='none'))
        fig.text(fx(125), fy(y), 'MOS TnTx', ha='center', va='center', fontsize=7.3, color=LBLUE,
                 fontweight='bold')

# frame decorations
fig.add_artist(Rectangle((0, 0), fx(5), 1, transform=fig.transFigure, facecolor='#b9c4b2',
                         edgecolor='none', zorder=0))
fig.add_artist(Rectangle((fx(550), 0), fx(4), 1, transform=fig.transFigure, facecolor='#c9d2c2',
                         edgecolor='none', zorder=0))
for yy, ls in [(1, (0, (1, 2))), (265, (0, (1, 2))), (530, '-'), (793, (0, (1, 2)))]:
    fig.add_artist(Line2D([fx(5), fx(550)], [fy(yy), fy(yy)], transform=fig.transFigure,
                          color='#3340dd', lw=0.8, ls=ls))

fig.savefig('out.png', dpi=100, facecolor='white')
